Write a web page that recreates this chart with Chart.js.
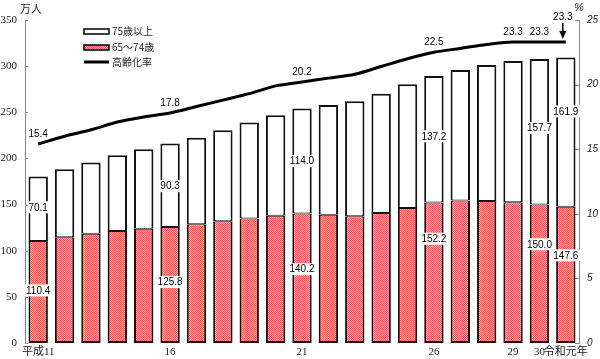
<!DOCTYPE html>
<html><head><meta charset="utf-8">
<script src="https://cdn.jsdelivr.net/npm/chart.js@4"></script>
<style>html,body{margin:0;padding:0;background:#fff}#wrap{width:600px;height:359px;position:relative}</style>
</head><body><div id="wrap"><canvas id="c" width="600" height="359"></canvas></div>
<script>
const years = ['平成11','平成12','平成13','平成14','平成15','平成16','平成17','平成18','平成19','平成20','平成21','平成22','平成23','平成24','平成25','平成26','平成27','平成28','平成29','平成30','令和元年'];
const tickLabels = ['平成11','','','','','16','','','','','21','','','','','26','','','29','30','令和元年'];
const age65to74 = [110.4,114.5,118.5,121.4,123.9,125.8,128.6,131.8,134.8,138.0,140.2,139.1,137.3,140.9,146.3,152.2,154.3,153.9,152.5,150.0,147.6];
const age75plus = [70.1,73.9,77.0,82.0,86.1,90.3,93.9,98.7,104.0,108.8,114.0,118.8,124.6,129.3,134.0,137.2,141.6,147.4,153.1,157.7,161.9];
const agingRate = [15.4,16.0,16.5,17.1,17.5,17.8,18.3,18.8,19.3,19.9,20.2,20.5,20.8,21.4,22.0,22.5,22.8,23.1,23.3,23.3,23.3];
const seriesNames = ['75歳以上','65～74歳','高齢化率'];
const leftAxis = {min:0, max:350, step:50, unit:'万人'};
const rightAxis = {min:0, max:25, step:5, unit:'%'};
// which categories carry value labels, and where (in data units) the label sits
const labeled75 = [[0,147],[5,170],[10,197],[15,224],[19,233],[20,251]];
const labeled65 = [[0,57],[5,66],[10,80],[15,113],[19,107],[20,95]];
const labeledRate = [0,5,10,15,18,19];
const arrowRate = 20;

const canvas = document.getElementById('c');
const mainCtx = canvas.getContext('2d');
function makePattern(){
  const p=document.createElement('canvas');p.width=2;p.height=2;
  const g=p.getContext('2d');
  g.fillStyle='#ffa0a0';g.fillRect(0,0,2,2);
  g.fillStyle='#ff5a5a';g.fillRect(0,0,1,1);g.fillRect(1,1,1,1);
  return mainCtx.createPattern(p,'repeat');
}
const redFill = makePattern();
const NUMFONT = '10px "Liberation Sans", Arial, sans-serif';
const CJKFONT = '"Noto Sans CJK JP", "Liberation Sans", sans-serif';

const decor = {
  id:'decor',
  afterDatasetsDraw(chart){
    const ctx=chart.ctx, xs=chart.scales.x, ys=chart.scales.y, yr=chart.scales.y1;
    ctx.save();
    ctx.font=NUMFONT; ctx.textAlign='center'; ctx.textBaseline='middle';
    function box(t,cx,cy){
      const w=ctx.measureText(t).width+4;
      ctx.fillStyle='#fff'; ctx.fillRect(cx-w/2,cy-6,w,12);
      ctx.fillStyle='#000'; ctx.fillText(t,cx,cy+0.5);
    }
    labeled75.forEach(([i,p])=>box(age75plus[i].toFixed(1),xs.getPixelForValue(i),ys.getPixelForValue(p)));
    labeled65.forEach(([i,p])=>box(age65to74[i].toFixed(1),xs.getPixelForValue(i),ys.getPixelForValue(p)));
    ctx.fillStyle='#000';
    labeledRate.forEach(i=>{
      ctx.fillText(agingRate[i].toFixed(1),xs.getPixelForValue(i),yr.getPixelForValue(agingRate[i])-10);
    });
    // arrow label
    const ax=xs.getPixelForValue(arrowRate)-3, ay=yr.getPixelForValue(agingRate[arrowRate]);
    ctx.fillText(agingRate[arrowRate].toFixed(1),ax,ay-25);
    ctx.strokeStyle='#000'; ctx.lineWidth=1.5;
    ctx.beginPath(); ctx.moveTo(ax,ay-19); ctx.lineTo(ax,ay-9); ctx.stroke();
    ctx.beginPath(); ctx.moveTo(ax-3.5,ay-11); ctx.lineTo(ax+3.5,ay-11); ctx.lineTo(ax,ay-3); ctx.closePath(); ctx.fill();
    ctx.restore();
  },
  afterDraw(chart){
    const ctx=chart.ctx, ys=chart.scales.y, yr=chart.scales.y1, ca=chart.chartArea;
    ctx.save();
    // inward tick marks
    ctx.strokeStyle='#888'; ctx.lineWidth=1;
    for(let v=leftAxis.min; v<=leftAxis.max; v+=leftAxis.step){
      const py=Math.round(ys.getPixelForValue(v))+0.5;
      ctx.beginPath(); ctx.moveTo(ca.left,py); ctx.lineTo(ca.left+3,py); ctx.stroke();
    }
    for(let v=rightAxis.min; v<=rightAxis.max; v+=rightAxis.step){
      const py=Math.round(yr.getPixelForValue(v))+0.5;
      ctx.beginPath(); ctx.moveTo(ca.right-4,py); ctx.lineTo(ca.right,py); ctx.stroke();
    }
    // units
    ctx.fillStyle='#222'; ctx.textBaseline='middle'; ctx.textAlign='center';
    ctx.font='11px '+CJKFONT; ctx.fillText(leftAxis.unit,31,9);
    ctx.font='italic 11px "Liberation Sans", Arial, sans-serif'; ctx.fillText(rightAxis.unit,579,8);
    // legend
    const lx=84, lw=25;
    ctx.lineWidth=1.5; ctx.strokeStyle='#000';
    ctx.fillStyle='#fff'; ctx.fillRect(lx,29,lw,5); ctx.strokeRect(lx,29,lw,5);
    ctx.fillStyle=redFill; ctx.fillRect(lx,45,lw,5); ctx.strokeRect(lx,45,lw,5);
    ctx.lineWidth=3; ctx.beginPath(); ctx.moveTo(lx,62); ctx.lineTo(lx+lw,62); ctx.stroke();
    ctx.fillStyle='#222'; ctx.textAlign='left'; ctx.font='10px '+CJKFONT;
    ctx.fillText(seriesNames[0],lx+lw+3,31.5);
    ctx.fillText(seriesNames[1],lx+lw+3,47.5);
    ctx.fillText(seriesNames[2],lx+lw+3,62);
    ctx.restore();
  }
};

new Chart(canvas,{
  data:{
    labels:years,
    datasets:[
      {type:'line',label:seriesNames[2],data:agingRate,yAxisID:'y1',borderColor:'#000',borderWidth:3,pointRadius:0,tension:0.3,cubicInterpolationMode:'monotone',order:0},
      {type:'bar',label:seriesNames[1],data:age65to74,yAxisID:'y',stack:'s',backgroundColor:redFill,borderColor:'#111',borderWidth:{top:1,left:2,right:2,bottom:2},borderSkipped:false,barPercentage:0.735,categoryPercentage:1,order:1},
      {type:'bar',label:seriesNames[0],data:age75plus,yAxisID:'y',stack:'s',backgroundColor:'#fff',borderColor:'#111',borderWidth:{top:2,left:2,right:2,bottom:1},borderSkipped:false,barPercentage:0.735,categoryPercentage:1,order:2}
    ]
  },
  options:{
    responsive:false, animation:false, devicePixelRatio:1,
    layout:{padding:{top:20,right:0,left:0,bottom:0}},
    plugins:{legend:{display:false},tooltip:{enabled:false}},
    scales:{
      x:{stacked:true,offset:true,grid:{display:false,drawTicks:false},border:{display:false},
        ticks:{autoSkip:false,maxRotation:0,padding:3,color:'#222',font:{family:'"Liberation Serif","Noto Sans CJK JP",serif',size:11},callback:(v,i)=>tickLabels[i]},
        afterFit(s){s.height=16;}},
      y:{stacked:true,position:'left',min:leftAxis.min,max:leftAxis.max,
        grid:{display:false,drawTicks:false},border:{display:true,color:'#888',width:1},
        ticks:{stepSize:leftAxis.step,padding:8,color:'#222',font:{family:'"Liberation Serif",serif',size:11}},
        afterFit(s){s.width=25;}},
      y1:{position:'right',min:rightAxis.min,max:rightAxis.max,
        grid:{display:false,drawTicks:false},border:{display:true,color:'#888',width:1},
        ticks:{stepSize:rightAxis.step,padding:8,color:'#222',font:{family:'"Liberation Sans",Arial,sans-serif',size:10,style:'italic'}},
        afterFit(s){s.width=21;}}
    }
  },
  plugins:[decor]
});
</script></body></html>
